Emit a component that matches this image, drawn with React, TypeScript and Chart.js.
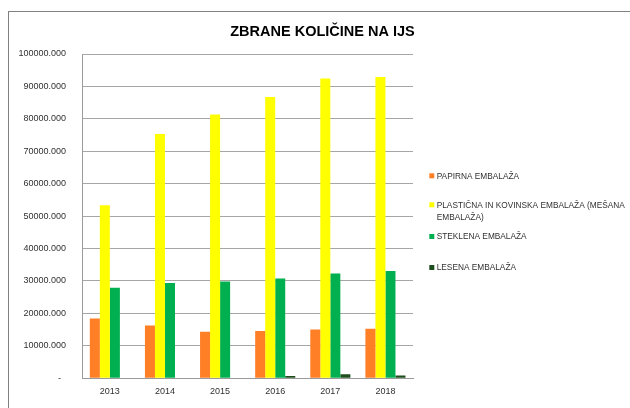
import React, { useEffect, useRef } from "react";
import { Chart, registerables } from "chart.js";

Chart.register(...registerables);

const years = ["2013", "2014", "2015", "2016", "2017", "2018"];
const papirna = [18450, 16250, 14320, 14530, 15050, 15230];
const plasticna = [53360, 75320, 81340, 86760, 92480, 92870];
const steklena = [27870, 29370, 29790, 30790, 32290, 33100];
const lesena = [0, 0, 0, 700, 1200, 800];

const seriesNames: string[][] = [
  ["PAPIRNA EMBALAŽA"],
  ["PLASTIČNA IN KOVINSKA EMBALAŽA (MEŠANA", "EMBALAŽA)"],
  ["STEKLENA EMBALAŽA"],
  ["LESENA EMBALAŽA"],
];
const seriesColors = ["#FF7F27", "#FFFF00", "#00B050", "#1E4E1E"];
const chartTitle = "ZBRANE KOLIČINE NA IJS";

const FONT = "'Liberation Sans', Arial, sans-serif";

const overlayPlugin = {
  id: "overlay",
  afterDraw(chart: any) {
    const ctx = chart.ctx as CanvasRenderingContext2D;
    ctx.save();
    // title
    ctx.fillStyle = "#000000";
    ctx.font = `bold 14.5px ${FONT}`;
    ctx.textAlign = "center";
    ctx.textBaseline = "middle";
    ctx.fillText(chartTitle, 313.5, 20);
    // legend
    const centers = [163.8, 192.8, 224.5, 255.5];
    ctx.font = `8.3px ${FONT}`;
    ctx.textAlign = "left";
    seriesNames.forEach((lines, i) => {
      const cy = centers[i];
      ctx.fillStyle = seriesColors[i];
      ctx.fillRect(420.3, cy - 2.5, 5, 5);
      ctx.fillStyle = "#303030";
      lines.forEach((ln, j) => {
        ctx.fillText(ln, 427.7, cy + j * 12.7 + 0.5);
      });
    });
    ctx.restore();
  },
};

export default function App() {
  const ref = useRef<HTMLCanvasElement | null>(null);
  useEffect(() => {
    if (!ref.current) return;
    const data = [papirna, plasticna, steklena, lesena];
    const chart = new Chart(ref.current, {
      type: "bar",
      data: {
        labels: years,
        datasets: data.map((d, i) => ({
          label: seriesNames[i].join(" "),
          data: d,
          backgroundColor: seriesColors[i],
          borderWidth: 0,
          categoryPercentage: 40 / 55,
          barPercentage: 1,
        })),
      },
      options: {
        animation: false,
        responsive: true,
        maintainAspectRatio: false,
        layout: { padding: { top: 42, right: 217, bottom: 3, left: 0 } },
        plugins: {
          legend: { display: false },
          title: { display: false },
          tooltip: { enabled: false },
        },
        scales: {
          x: {
            grid: { display: false, drawTicks: false },
            border: { display: true, color: "#9A9A9A", width: 1 },
            ticks: {
              color: "#303030",
              font: { family: FONT, size: 9 },
              padding: 8,
              maxRotation: 0,
            },
          },
          y: {
            min: 0,
            max: 100000,
            afterFit: (axis: any) => {
              axis.width = 73.3;
            },
            grid: { color: "#A6A6A6", lineWidth: 1, drawTicks: false },
            border: { display: true, color: "#9A9A9A", width: 1 },
            ticks: {
              stepSize: 10000,
              color: "#303030",
              font: { family: FONT, size: 9 },
              padding: 16.3,
              callback: (v: any) => (Number(v) === 0 ? "-  " : Number(v).toFixed(3)),
            },
          },
        },
      },
      plugins: [overlayPlugin],
    });
    return () => chart.destroy();
  }, []);

  return (
    <div
      style={{
        position: "fixed",
        left: 8,
        top: 11,
        width: 622,
        height: 397,
        boxSizing: "border-box",
        borderTop: "1px solid #808080",
        borderLeft: "1px solid #808080",
        background: "#ffffff",
      }}
    >
      <div style={{ position: "relative", width: 621, height: 396 }}>
        <canvas ref={ref} />
      </div>
    </div>
  );
}
